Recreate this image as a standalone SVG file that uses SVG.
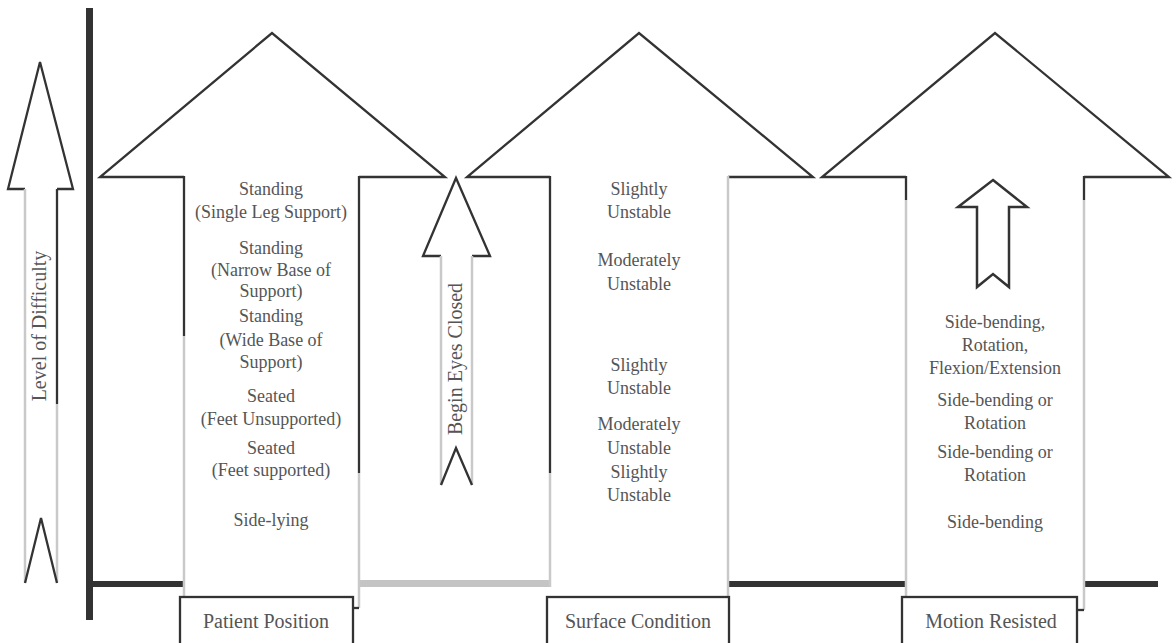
<svg xmlns="http://www.w3.org/2000/svg" width="1176" height="643" viewBox="0 0 1176 643">
  <style>
    .head { fill: none; stroke: #333; stroke-width: 2.3; stroke-linejoin: miter; }
    .dark { fill: none; stroke: #333; stroke-width: 2.3; }
    .pale { fill: none; stroke: #c9c9c9; stroke-width: 2.5; }
    .fillw { fill: #fff; stroke: none; }
    .txt { font-family: "Liberation Serif", "Times New Roman", serif; font-size: 18px; fill: #555; text-anchor: middle; }
    .lbl { font-family: "Liberation Serif", "Times New Roman", serif; font-size: 20px; fill: #555; text-anchor: middle; }
    .box { fill: #fff; stroke: #333; stroke-width: 2.3; }
  </style>

  <rect width="1176" height="643" fill="#fff"/>

  <!-- axes: vertical bar and baseline segments between the arrows -->
  <g id="connectors">
    <rect x="86" y="8" width="7" height="612" fill="#333"/>
    <rect x="93" y="581" width="91" height="6" fill="#333"/>
    <rect x="359" y="580" width="191" height="7" fill="#c4c4c4"/>
    <rect x="729" y="581" width="176" height="6" fill="#333"/>
    <rect x="1085" y="581" width="73" height="6" fill="#333"/>
  </g>

  <!-- Level of Difficulty arrow -->
  <g id="level-arrow">
    <polyline class="head" points="25,189 8,189 40,62 73,189 57,189"/>
    <line class="pale" x1="25" y1="189" x2="25" y2="583"/>
    <line class="dark" x1="57" y1="189" x2="57" y2="404"/>
    <line class="pale" x1="57" y1="404" x2="57" y2="583"/>
    <polyline class="dark" points="25,583 41,518 57,583"/>
    <text class="lbl" transform="translate(46,326) rotate(-90)">Level of Difficulty</text>
  </g>

  <!-- Patient Position column -->
  <g id="patient-position">
    <polygon class="fillw" points="184,177 100,177 272,33 445,177 359,177 359,597 184,597"/>
    <polyline class="head" points="184,177 100,177 272,33 445,177 359,177"/>
    <line class="dark" x1="184" y1="176" x2="184" y2="336"/>
    <line class="pale" x1="184" y1="336" x2="184" y2="597"/>
    <line class="dark" x1="359" y1="176" x2="359" y2="473"/>
    <line class="pale" x1="359" y1="473" x2="359" y2="608"/>
    <line class="dark" x1="352" y1="608" x2="359" y2="608"/>
    <rect class="box" x="180" y="597" width="173" height="60"/>
    <text class="lbl" x="266" y="628">Patient Position</text>
    <text class="txt" x="271" y="195">Standing</text>
    <text class="txt" x="271" y="218">(Single Leg Support)</text>
    <text class="txt" x="271" y="254">Standing</text>
    <text class="txt" x="271" y="276">(Narrow Base of</text>
    <text class="txt" x="271" y="297">Support)</text>
    <text class="txt" x="271" y="322">Standing</text>
    <text class="txt" x="271" y="346">(Wide Base of</text>
    <text class="txt" x="271" y="368">Support)</text>
    <text class="txt" x="271" y="402">Seated</text>
    <text class="txt" x="271" y="425">(Feet Unsupported)</text>
    <text class="txt" x="271" y="454">Seated</text>
    <text class="txt" x="271" y="476">(Feet supported)</text>
    <text class="txt" x="271" y="526">Side-lying</text>
  </g>

  <!-- Begin Eyes Closed arrow -->
  <g id="eyes-closed">
    <polyline class="head" points="441,256 423,256 456,178 490,256 472,256"/>
    <line class="pale" x1="441" y1="256" x2="441" y2="485"/>
    <line class="pale" x1="472" y1="256" x2="472" y2="485"/>
    <polyline class="dark" points="441,485 456,448 472,485"/>
    <text class="lbl" transform="translate(462,359) rotate(-90)">Begin Eyes Closed</text>
  </g>

  <!-- Surface Condition column -->
  <g id="surface-condition">
    <polygon class="fillw" points="550,177 467,177 639,33 813,177 728,177 728,597 550,597"/>
    <polyline class="head" points="550,177 467,177 639,33 813,177 728,177"/>
    <line class="dark" x1="550" y1="176" x2="550" y2="473"/>
    <line class="pale" x1="550" y1="473" x2="550" y2="587"/>
    <line class="pale" x1="728" y1="176" x2="728" y2="597"/>
    <rect class="box" x="547" y="597" width="182" height="60"/>
    <text class="lbl" x="638" y="628">Surface Condition</text>
    <text class="txt" x="639" y="195">Slightly</text>
    <text class="txt" x="639" y="218">Unstable</text>
    <text class="txt" x="639" y="266">Moderately</text>
    <text class="txt" x="639" y="290">Unstable</text>
    <text class="txt" x="639" y="371">Slightly</text>
    <text class="txt" x="639" y="394">Unstable</text>
    <text class="txt" x="639" y="430">Moderately</text>
    <text class="txt" x="639" y="454">Unstable</text>
    <text class="txt" x="639" y="478">Slightly</text>
    <text class="txt" x="639" y="501">Unstable</text>
  </g>

  <!-- Motion Resisted column -->
  <g id="motion-resisted">
    <polygon class="fillw" points="906,177 822,177 995,33 1169,177 1084,177 1084,597 906,597"/>
    <polyline class="head" points="906,177 822,177 995,33 1169,177 1084,177"/>
    <line class="dark" x1="906" y1="176" x2="906" y2="200"/>
    <line class="pale" x1="906" y1="200" x2="906" y2="597"/>
    <line class="dark" x1="1084" y1="176" x2="1084" y2="200"/>
    <line class="pale" x1="1084" y1="200" x2="1084" y2="610"/>
    <line class="dark" x1="1077" y1="610" x2="1084" y2="610"/>
    <rect class="box" x="902" y="597" width="175" height="60"/>
    <text class="lbl" x="991" y="628">Motion Resisted</text>
    <text class="txt" x="995" y="328">Side-bending,</text>
    <text class="txt" x="995" y="351">Rotation,</text>
    <text class="txt" x="995" y="374">Flexion/Extension</text>
    <text class="txt" x="995" y="406">Side-bending or</text>
    <text class="txt" x="995" y="429">Rotation</text>
    <text class="txt" x="995" y="458">Side-bending or</text>
    <text class="txt" x="995" y="481">Rotation</text>
    <text class="txt" x="995" y="528">Side-bending</text>
  </g>

  <!-- small upward arrow inside Motion Resisted -->
  <g id="motion-arrow">
    <polygon points="993,180 1027,207 1009,207 1009,287 993,274 977,287 977,207 958,207" fill="#fff" stroke="#333" stroke-width="2.5" stroke-linejoin="miter"/>
  </g>
</svg>
